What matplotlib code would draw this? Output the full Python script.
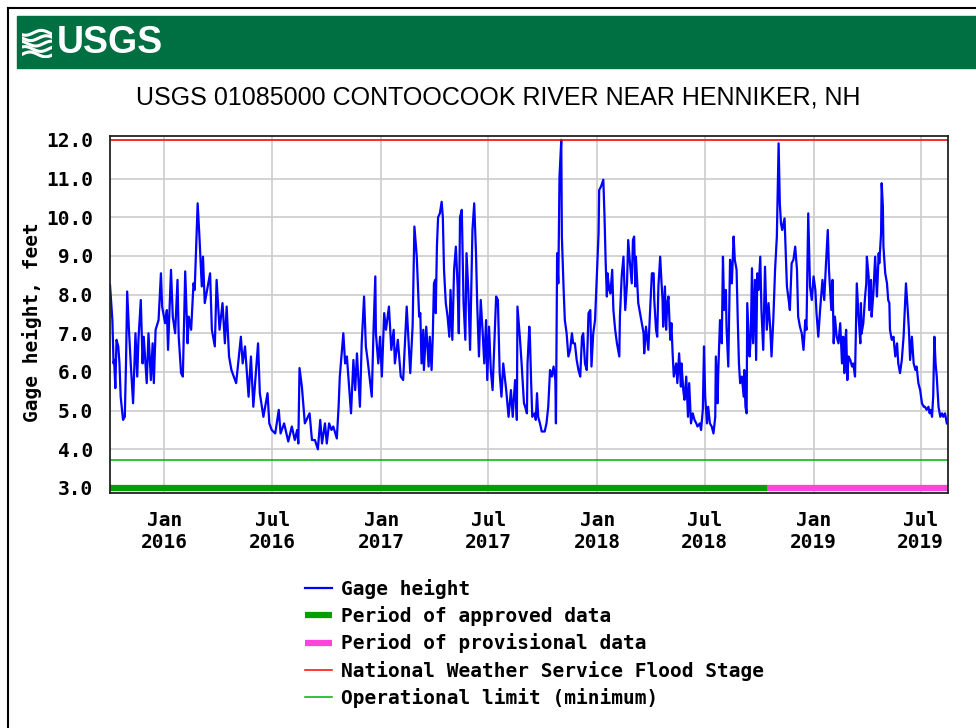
import numpy as np
import pandas as pd
import matplotlib
matplotlib.use('Agg')
import matplotlib.pyplot as plt
import matplotlib.dates as mdates
from matplotlib.patches import Rectangle
from matplotlib.lines import Line2D

# Station / reference levels
title = 'USGS 01085000 CONTOOCOOK RIVER NEAR HENNIKER, NH'
start = pd.Timestamp('2015-10-01')
end = pd.Timestamp('2019-08-16')
provisional_start = pd.Timestamp('2018-10-14')
flood_stage = 12.0
operational_min = 3.72

# Gage height readings (days since 2015-10-01, feet)
day = [
    0, 4, 6, 7, 9, 11, 14, 16, 18, 22, 25, 27, 29, 32, 35, 39, 43, 46, 48, 52,
    55, 57, 62, 65, 69, 72, 74, 77, 82, 86, 88, 93, 96, 98, 103, 106, 110, 114, 116, 120,
    123, 127, 131, 133, 137, 141, 143, 148, 151, 155, 157, 160,
    169, 172, 177, 180, 185, 190, 194, 197, 201, 205, 213, 221, 224, 228, 234, 238, 242, 250,
    253, 259, 266, 269, 273, 279, 285, 288, 294, 301, 307, 312, 316, 318, 320, 324, 329, 337, 341,
    346, 351, 355, 358, 363, 366, 370, 374, 377, 383, 386, 388, 394, 397, 400, 407, 411, 414, 417,
    422, 425, 429, 432, 435, 442, 445, 448, 449, 453, 456, 459, 463, 466, 471, 475, 479, 481, 486,
    491, 495, 501, 507, 511, 514, 518, 522,
    524, 526, 529, 530, 534, 538, 540, 543, 545, 547, 549, 550, 552, 554, 557, 560, 562, 564, 567,
    570, 573, 575, 578, 581, 584, 587, 589, 591, 594, 597, 600, 602, 605, 608, 612, 615, 618, 620,
    623, 626, 629, 632, 635, 637, 640, 643, 646, 652, 655, 658, 661, 664, 669, 673, 677, 680, 684,
    687, 688, 692, 695, 699,
    701, 704, 705, 708, 709, 711, 713, 717, 719, 721, 723, 726, 729, 734, 737, 740, 743, 746, 749,
    752, 753, 755, 757, 759, 762, 763, 766, 768, 771, 774, 777, 780, 782, 785, 788, 791, 794, 797,
    799, 802, 805, 808, 811, 813, 816, 819, 822, 825, 826, 829, 833, 835, 837, 839, 840, 843, 845,
    848, 850, 853, 856, 860, 861, 864, 867, 870, 873, 875,
    878, 881, 883, 885, 887, 888, 891, 892, 895, 898, 901, 902, 905, 909, 912, 915, 918, 919, 922,
    924, 926, 929, 931, 933, 934, 937, 939, 941, 943, 946, 948, 950, 952, 956, 958, 961, 964, 965,
    968, 970, 973, 976, 978, 981, 984, 987, 990, 992, 996, 998, 1001, 1003, 1005, 1008, 1010, 1013,
    1016, 1019, 1022, 1023, 1026, 1027, 1030, 1033, 1035, 1037, 1040, 1041, 1044, 1047, 1050, 1053,
    1055, 1058, 1060, 1062, 1064, 1067, 1070, 1071, 1073, 1075, 1076, 1078, 1080, 1082, 1084, 1086,
    1089, 1091, 1093, 1095, 1098, 1100, 1103, 1106, 1109, 1112, 1115, 1117, 1120, 1123, 1126, 1129,
    1131, 1133, 1135, 1139, 1141, 1143, 1146, 1148, 1151, 1154, 1157, 1160, 1162, 1165, 1168, 1171,
    1174, 1176, 1179, 1182, 1185, 1188, 1191, 1193, 1196, 1199, 1203, 1206, 1209, 1212, 1214, 1218,
    1220, 1222, 1224, 1227, 1230,
    1233, 1236, 1238, 1240, 1241, 1243, 1245, 1247, 1250, 1253, 1255, 1258, 1261, 1264, 1267, 1268,
    1269, 1272, 1275, 1277, 1278, 1281, 1282, 1285, 1286, 1289, 1292, 1295, 1298, 1299, 1302, 1303,
    1305, 1306, 1309, 1312, 1314, 1316, 1317, 1320, 1323, 1326, 1329, 1331, 1334, 1337, 1340, 1344,
    1347, 1349, 1351, 1354, 1357, 1360, 1362, 1365, 1368, 1371, 1374, 1376, 1379, 1382, 1384, 1386,
    1388, 1390, 1392, 1394, 1396, 1399, 1402, 1405, 1407, 1410, 1413,
]
gage_ft = [
    8.25, 7.34, 6.22, 6.31, 5.58, 6.83, 6.66, 6.22, 5.36, 4.76, 4.84, 6.22, 8.08, 7.09, 6.22, 5.19, 7.0, 5.88, 6.83, 7.86,
    6.22, 6.91, 5.71, 7.0, 5.79, 6.74, 5.71, 7.09, 7.34, 8.55, 7.69, 7.26, 7.6, 6.57, 8.64, 7.43, 7.0, 8.38, 6.91, 5.97,
    5.88, 8.6, 6.74, 7.43, 7.09, 8.29, 8.12, 10.36, 9.5, 8.21, 8.98, 7.78,
    8.55, 7.09, 6.66, 8.38, 7.09, 7.78, 6.74, 7.69, 6.4, 6.05, 5.71, 6.91, 6.22, 6.66, 5.36, 6.4, 5.1, 6.74,
    5.45, 4.84, 5.45, 4.67, 4.5, 4.41, 5.02, 4.41, 4.67, 4.2, 4.59, 4.24, 4.5, 4.15, 6.1, 5.62, 4.67, 4.93, 4.24,
    4.24, 4.0, 4.76, 4.15, 4.67, 4.15, 4.67, 4.5, 4.59, 4.28, 5.1, 5.88, 7.0, 6.22, 6.4, 4.93, 6.31, 5.53, 6.48,
    5.1, 6.74, 7.95, 6.66, 6.31, 5.36, 7.09, 8.47, 7.0, 6.22, 6.91, 5.88, 7.52, 7.09, 7.69, 6.57, 7.09, 6.22, 6.83,
    5.88, 5.79, 7.69, 5.97, 7.2, 9.76, 8.98, 7.43,
    7.52, 6.22, 7.09, 6.05, 7.17, 6.14, 6.91, 6.05, 6.91, 8.29, 8.38, 7.52, 9.24, 10.0, 10.1, 10.4, 10.0, 8.64, 7.78,
    7.43, 6.91, 8.12, 6.83, 8.64, 9.24, 8.21, 7.0, 10.0, 10.19, 7.78, 6.83, 9.07, 8.12, 6.57, 9.67, 10.36, 9.07, 7.78,
    6.4, 7.86, 7.09, 6.22, 7.34, 5.79, 7.17, 6.05, 5.53, 7.95, 7.86, 5.97, 5.36, 6.22, 5.53, 4.84, 5.53, 4.84, 5.79,
    4.76, 7.69, 6.91, 6.22, 5.19,
    5.1, 4.93, 6.22, 7.17, 6.91, 5.79, 4.84, 4.93, 4.76, 5.45, 4.84, 4.67, 4.46, 4.46, 4.67, 5.1, 6.05, 5.88, 6.14,
    5.79, 4.67, 9.07, 8.29, 11.05, 12.0, 9.5, 8.12, 7.34, 7.0, 6.4, 6.57, 7.0, 6.74, 6.74, 6.31, 6.05, 5.88, 6.91,
    7.0, 6.22, 6.05, 7.52, 7.6, 6.14, 7.0, 7.34, 8.47, 9.59, 10.7, 10.79, 10.97, 10.02, 8.81, 7.95, 8.55, 8.12, 8.03,
    8.64, 7.6, 7.09, 6.74, 6.4, 7.43, 8.47, 8.98, 7.6, 8.29, 9.41,
    8.81, 8.29, 9.41, 9.5, 8.21, 8.98, 8.12, 7.78, 7.52, 7.26, 7.0, 6.48, 7.17, 6.57, 7.6, 8.55, 8.55, 7.86, 7.09,
    6.91, 8.21, 8.98, 8.38, 7.86, 7.17, 8.21, 7.09, 7.78, 7.95, 6.83, 7.26, 6.48, 5.88, 6.22, 5.71, 6.48, 5.62, 6.22,
    5.53, 5.28, 5.88, 4.84, 5.71, 4.67, 4.93, 4.76, 4.67, 4.59, 4.67, 4.5, 5.02, 6.66, 5.36, 4.67, 5.1, 4.67,
    4.59, 4.41, 4.84, 6.4, 5.19, 5.97, 7.34, 6.74, 8.98, 7.6, 8.12, 7.17, 6.14, 8.9, 8.29, 9.5,
    8.9, 8.64, 7.34, 6.22, 5.71, 5.88, 5.36, 6.05, 5.1, 4.93, 7.78, 7.09, 6.4, 6.91, 8.68, 6.74,
    8.38, 6.31, 8.55, 8.12, 8.98, 7.6, 6.57, 8.72, 7.09, 7.78, 7.09, 6.4, 7.34, 8.64, 9.5, 11.91,
    10.36, 9.84, 9.67, 9.97, 9.07, 8.21, 7.86, 7.6, 8.81, 8.9, 9.24, 8.64, 7.43, 7.17, 7.0, 6.57,
    7.34, 7.09, 10.1, 8.21, 7.86, 8.47, 8.12, 7.52, 6.91, 7.6, 8.38, 7.86, 8.81, 9.67, 8.64, 7.6,
    8.38, 6.74, 7.43, 6.91, 6.74,
    7.26, 6.22, 6.91, 5.97, 6.66, 7.09, 5.79, 6.4, 6.31, 6.14, 6.22, 5.88, 8.29, 7.43, 6.74, 7.78,
    6.99, 7.26, 7.95, 8.29, 8.98, 8.47, 7.6, 8.38, 7.43, 8.03, 8.98, 7.95, 9.07, 8.81, 9.59, 10.88,
    10.28, 9.24, 8.55, 8.29, 7.86, 7.78, 7.09, 6.83, 6.91, 6.4, 6.74, 6.22, 5.97, 6.31, 6.91, 8.29,
    7.6, 7.09, 6.31, 6.91, 6.22, 6.05, 6.14, 5.71, 5.53, 5.19, 5.1, 5.1, 5.02, 5.1, 4.93, 5.02,
    4.84, 5.36, 6.91, 6.22, 5.88, 5.1, 4.84, 4.93, 4.84, 4.93, 4.67,
]

y_ticks = [3.0, 4.0, 5.0, 6.0, 7.0, 8.0, 9.0, 10.0, 11.0, 12.0]

dates = start + pd.to_timedelta(day, unit='D')

W, H = 976, 728
mono = dict(family='DejaVu Sans Mono', weight='bold', size=14)

fig = plt.figure(figsize=(W / 100, H / 100), dpi=100)

# page frame and USGS banner
fig.add_artist(Line2D([8 / W, 8 / W], [0, 1 - 8 / H], color='black', lw=1.5, transform=fig.transFigure))
fig.add_artist(Line2D([8 / W, 1], [1 - 8 / H, 1 - 8 / H], color='black', lw=1.5, transform=fig.transFigure))
fig.patches.append(Rectangle((17 / W, 1 - 68 / H), (W - 17) / W, 52 / H,
                             transform=fig.transFigure, color='#006f41', zorder=-1))
fig.text(57 / W, 1 - 43 / H, 'USGS', color='white', fontsize=27, fontweight='bold',
         family=['Liberation Sans Narrow', 'Liberation Sans'], ha='left', va='center')
icon = fig.add_axes([22 / W, 1 - 58 / H, 30 / W, 30 / H])
icon.axis('off')
s = np.linspace(0, 1, 50)
for k in range(5):
    icon.plot(s, 0.18 * k + 0.12 + 0.08 * np.sin(6 * s + k), color='white', lw=2.2)
icon.set_xlim(0, 1)
icon.set_ylim(0, 1)

fig.text(498 / W, 1 - 98 / H, title, ha='center', va='center', fontsize=18,
         family='Liberation Sans', color='black')

# main plot
ax = fig.add_axes([110 / W, 1 - 493 / H, 838 / W, 357 / H])
gh, = ax.plot(dates, gage_ft, color='#0000ff', lw=1.6, label='Gage height')
appr, = ax.plot([start, provisional_start], [3.0, 3.0], color='#00a000', lw=4.5,
                solid_capstyle='butt', label='Period of approved data', clip_on=False)
prov, = ax.plot([provisional_start, end], [3.0, 3.0], color='#ff44dd', lw=4.5,
                solid_capstyle='butt', label='Period of provisional data', clip_on=False)
fl = ax.axhline(flood_stage, color='#ff0000', lw=1.1, label='National Weather Service Flood Stage')
op = ax.axhline(operational_min, color='#00b000', lw=1.1, label='Operational limit (minimum)')

ax.set_xlim(start, end)
ax.set_ylim(2.87, 12.1)
ax.set_yticks(y_ticks)
ax.set_yticklabels(['%.1f' % v for v in y_ticks])
ax.xaxis.set_major_locator(mdates.MonthLocator(bymonth=[1, 7]))
ax.xaxis.set_major_formatter(mdates.DateFormatter('%b\n%Y'))
ax.grid(True, color='#cccccc', lw=1.2)
ax.set_axisbelow(True)
for sp in ax.spines.values():
    sp.set_color('#222222')
    sp.set_linewidth(1.3)
ax.tick_params(axis='both', length=0)
ax.tick_params(axis='y', pad=12)
ax.tick_params(axis='x', pad=13)
for lab in ax.get_xticklabels() + ax.get_yticklabels():
    lab.set_fontfamily('DejaVu Sans Mono')
    lab.set_fontweight('bold')
    lab.set_fontsize(14)
ax.set_ylabel('Gage height, feet', fontdict=mono)
ax.yaxis.set_label_coords(-0.081, 0.48)

fig.legend(handles=[gh, appr, prov, fl, op], loc='upper left',
           bbox_to_anchor=(305 / W, 1 - 579 / H), frameon=False, prop=mono,
           handlelength=1.4, handletextpad=0.45, labelspacing=0.37,
           borderpad=0, borderaxespad=0)

fig.savefig('out.png', dpi=100)
